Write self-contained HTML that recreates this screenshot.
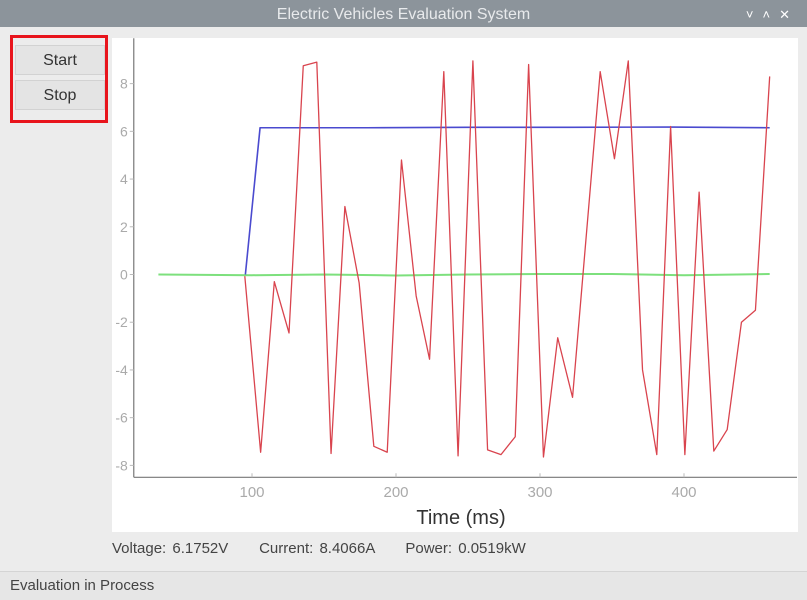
<!DOCTYPE html>
<html><head><meta charset="utf-8"><style>
body{margin:0;width:807px;height:600px;background:#ececec;font-family:"Liberation Sans",sans-serif;overflow:hidden;position:relative}
#title{position:absolute;left:0;top:0;width:807px;height:27px;background:#8c949b;color:#e8eaec;font-size:16px;text-align:center;line-height:29px}
#ctl{position:absolute;right:8px;top:0;color:#fff;font-size:13px;line-height:29px;letter-spacing:9px}
#box{position:absolute;left:10px;top:35px;width:98px;height:88px;border:3px solid #e8141c;box-sizing:border-box}
.btn{position:absolute;left:15px;width:90px;height:30px;background:#e4e4e4;border:1px solid #d2d2d2;box-sizing:border-box;font-size:16px;text-align:center;line-height:29px;color:#333}
#plot{position:absolute;left:112px;top:38px;width:686px;height:494px;background:#fff}
#stat{position:absolute;left:112px;top:540px;font-size:15px;color:#444;word-spacing:2px}
#bar{position:absolute;left:0;top:571px;width:807px;height:29px;border-top:1px solid #d4d4d4;background:#e6e6e6;font-size:15px;color:#444;line-height:28px;padding-left:10px;box-sizing:border-box}
</style></head><body>
<div id="title">Electric Vehicles Evaluation System<span id="ctl">˅˄✕</span></div>
<div id="box"></div>
<div class="btn" style="top:45px">Start</div>
<div class="btn" style="top:80px">Stop</div>
<div id="plot"></div>
<svg id="chart" width="807" height="600" style="position:absolute;left:0;top:0"></svg>
<div id="stat">Voltage: 6.1752V &nbsp;&nbsp;&nbsp; Current: 8.4066A &nbsp;&nbsp;&nbsp; Power: 0.0519kW</div>
<div id="bar">Evaluation in Process</div>
<script>
const xTicks=[100,200,300,400];
const yTicks=[-8,-6,-4,-2,0,2,4,6,8];
const redT=[95,106,115.5,125.7,135.6,145,154.9,164.5,174.4,184.6,193.9,203.8,214,223.3,233.2,243.1,253.4,263.6,272.9,282.8,292.1,302.4,312.3,322.6,341.8,351.7,361.3,371.2,381.1,390.7,400.6,410.5,420.7,430,439.9,449.6,459.5];
const redV=[-0.07,-7.45,-0.3,-2.45,8.75,8.9,-7.5,2.85,-0.35,-7.2,-7.45,4.8,-0.9,-3.55,8.5,-7.6,8.95,-7.35,-7.55,-6.8,8.8,-7.65,-2.65,-5.15,8.5,4.85,8.95,-4,-7.55,6.2,-7.55,3.45,-7.4,-6.5,-2,-1.5,8.3];
const blueT=[95.4,105.6,180,250,320,390,459.5];
const blueV=[0,6.15,6.15,6.17,6.17,6.18,6.15];
const greenT=[35,100,150,200,250,300,350,400,459.5];
const greenV=[0,-0.03,0,-0.04,0,0.02,0.02,-0.03,0.02];
const X=t=>252+(t-100)*1.44, Y=v=>274.5-v*23.86;
const svg=document.getElementById('chart'),NS='http://www.w3.org/2000/svg';
function mk(tag,a){const e=document.createElementNS(NS,tag);for(const k in a)e.setAttribute(k,a[k]);svg.appendChild(e);return e;}
let e=mk('line',{x1:X(17.9),y1:Y(9.9),x2:X(17.9),y2:Y(-8.5),stroke:'#777','stroke-width':1.2});

e=mk('line',{x1:X(17.9),y1:Y(-8.5),x2:797,y2:Y(-8.5),stroke:'#777','stroke-width':1.2});

yTicks.forEach(v=>{mk('line',{x1:X(17.9)-4,y1:Y(v),x2:X(17.9),y2:Y(v),stroke:'#bbb'});
 const t=mk('text',{x:X(17.9)-6,y:Y(v)+5,'text-anchor':'end','font-size':14,fill:'#aaa','font-family':'Liberation Sans'});t.textContent=v;
 });
xTicks.forEach(v=>{mk('line',{x1:X(v),y1:Y(-8.5),x2:X(v),y2:Y(-8.5)-4,stroke:'#bbb'});
 const t=mk('text',{x:X(v),y:497,'text-anchor':'middle','font-size':15,fill:'#aaa','font-family':'Liberation Sans'});t.textContent=v;
 });
e=mk('text',{x:461,y:524,'text-anchor':'middle','font-size':20,fill:'#333','font-family':'Liberation Sans'});e.textContent='Time (ms)';

function line(T,V,c,w,n){const p=mk('polyline',{points:T.map((t,i)=>X(t)+','+Y(V[i])).join(' '),fill:'none',stroke:c,'stroke-width':w,'stroke-linejoin':'round'});
 }
line(greenT,greenV,'#7de07d',2,'power-line');
line(blueT,blueV,'#4a4acf',1.6,'voltage-line');
line(redT,redV,'#d9444e',1.3,'current-line');
</script>
</body></html>
